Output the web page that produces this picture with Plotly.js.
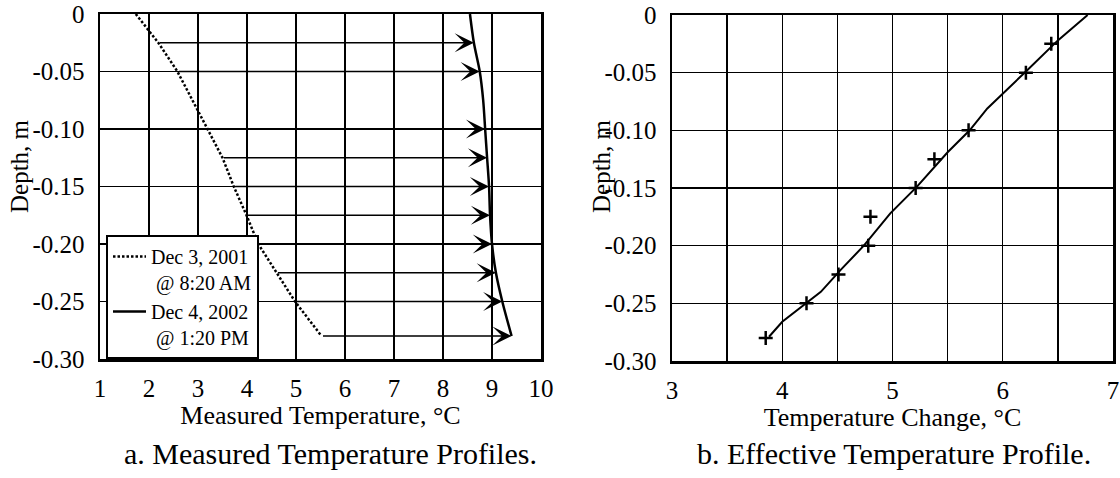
<!DOCTYPE html>
<html>
<head>
<meta charset="utf-8">
<script src="https://cdn.plot.ly/plotly-3.0.1.min.js"></script>
<style>html,body{margin:0;padding:0;background:#fff;}#chart{width:1120px;height:478px;}</style>
</head>
<body>
<div id="chart"></div>
<script>
// Panel a: measured temperature profiles
const depthA = [0, -0.025, -0.05, -0.10, -0.125, -0.15, -0.175, -0.20, -0.225, -0.25, -0.28];
const tempDec2001 = [1.73, 2.19, 2.58, 3.19, 3.50, 3.73, 3.99, 4.23, 4.60, 4.98, 5.52];
const depthSolid = [0, -0.025, -0.05, -0.075, -0.10, -0.125, -0.15, -0.175, -0.20, -0.225, -0.25, -0.28];
const tempDec2002 = [8.55, 8.63, 8.75, 8.82, 8.86, 8.90, 8.94, 8.96, 9.00, 9.08, 9.21, 9.40];

// Arrow depths (from the 2001 profile to the 2002 profile)
const arrowDepths = [-0.025, -0.05, -0.10, -0.125, -0.15, -0.175, -0.20, -0.225, -0.25, -0.28];
const arrowFrom = [2.19, 2.58, 3.19, 3.50, 3.73, 3.99, 4.23, 4.60, 4.98, 5.52];
const arrowTo = [8.63, 8.75, 8.86, 8.90, 8.94, 8.96, 9.00, 9.08, 9.21, 9.40];

// Panel b: effective temperature profile
const depthB = [-0.025, -0.05, -0.10, -0.125, -0.15, -0.175, -0.20, -0.225, -0.25, -0.28];
const tempChange = [6.44, 6.21, 5.69, 5.38, 5.21, 4.80, 4.78, 4.51, 4.22, 3.85];
const fitTemp = [3.88, 4.00, 4.35, 4.53, 4.74, 4.98, 5.22, 5.50, 5.70, 5.86, 6.21, 6.50, 6.77];
const fitDepth = [-0.279, -0.266, -0.240, -0.221, -0.200, -0.172, -0.149, -0.119, -0.100, -0.081, -0.049, -0.022, 0];

// Tick labels
const yTickVals = [0, -0.05, -0.10, -0.15, -0.20, -0.25, -0.30];
const yTickText = ['0', '-0.05', '-0.10', '-0.15', '-0.20', '-0.25', '-0.30'];
const xTickValsA = [1, 2, 3, 4, 5, 6, 7, 8, 9, 10];
const xTickTextA = ['1', '2', '3', '4', '5', '6', '7', '8', '9', '10'];
const xTickValsB = [3, 3.5, 4, 4.5, 5, 5.5, 6, 6.5, 7];
const xTickTextB = ['3', '', '4', '', '5', '', '6', '', '7'];

const FONT = '"Liberation Serif", "Times New Roman", Tinos, serif';
const tickFont = {family: FONT, size: 25, color: '#000'};

const traces = [
  {x: tempDec2001, y: depthA, xaxis: 'x', yaxis: 'y', mode: 'lines',
   name: 'Dec 3, 2001<br>\u00a0@ 8:20 AM',
   line: {color: '#000', width: 2.5, dash: '2.5px,2px'}},
  {x: tempDec2002, y: depthSolid, xaxis: 'x', yaxis: 'y', mode: 'lines',
   name: 'Dec 4, 2002<br>\u00a0@ 1:20 PM',
   line: {color: '#000', width: 2.5, shape: 'spline', smoothing: 0.8}},
  {x: fitTemp, y: fitDepth, xaxis: 'x2', yaxis: 'y2', mode: 'lines', showlegend: false,
   line: {color: '#000', width: 2}},
  {x: tempChange, y: depthB, xaxis: 'x2', yaxis: 'y2', mode: 'markers', showlegend: false,
   marker: {symbol: 'cross-thin-open', size: 10, color: '#000', line: {color: '#000', width: 2.5}}}
];

const annotations = arrowDepths.map((d, i) => ({
  x: arrowTo[i], y: d, ax: arrowFrom[i], ay: d,
  xref: 'x', yref: 'y', axref: 'x', ayref: 'y',
  text: '', showarrow: true, arrowhead: 3, arrowsize: 2, arrowwidth: 1.6, arrowcolor: '#000'
}));

annotations.push(
  {xref: 'paper', yref: 'paper', x: 20 / 1120, y: (478 - 166) / 478, xanchor: 'center', yanchor: 'middle',
   text: 'Depth, m', textangle: -90, showarrow: false, font: {family: FONT, size: 25, color: '#000'}},
  {xref: 'paper', yref: 'paper', x: 602 / 1120, y: (478 - 166) / 478, xanchor: 'center', yanchor: 'middle',
   text: 'Depth, m', textangle: -90, showarrow: false, font: {family: FONT, size: 25, color: '#000'}},
  {xref: 'paper', yref: 'paper', x: 330 / 1120, y: (478 - 453) / 478, xanchor: 'center', yanchor: 'middle',
   text: 'a. Measured Temperature Profiles.', showarrow: false, font: {family: FONT, size: 30, color: '#000'}},
  {xref: 'paper', yref: 'paper', x: 894 / 1120, y: (478 - 453) / 478, xanchor: 'center', yanchor: 'middle',
   text: 'b. Effective Temperature Profile.', showarrow: false, font: {family: FONT, size: 30, color: '#000'}}
);

const axisCommon = {
  showline: true, mirror: true, linecolor: '#000', linewidth: 2.5,
  showgrid: true, gridcolor: '#000', gridwidth: 1.3,
  zeroline: false, ticks: '', tickfont: tickFont, tickmode: 'array', fixedrange: true
};

const layout = {
  width: 1120, height: 478,
  margin: {l: 0, r: 0, t: 0, b: 0},
  paper_bgcolor: '#fff', plot_bgcolor: '#fff',
  font: {family: FONT, color: '#000'},
  showlegend: true,
  legend: {x: 106 / 1120, y: (478 - 235) / 478, xanchor: 'left', yanchor: 'top',
    bgcolor: '#fff', bordercolor: '#000', borderwidth: 2,
    font: {family: FONT, size: 20, color: '#000'}, valign: 'top', itemwidth: 33,
    tracegroupgap: 0},
  xaxis: Object.assign({}, axisCommon, {domain: [100 / 1120, 541 / 1120], range: [1, 10],
    tickvals: xTickValsA, ticktext: xTickTextA, anchor: 'y', ticklabelstandoff: 5,
    title: {text: 'Measured Temperature, \u00b0C', font: {family: FONT, size: 26, color: '#000'}, standoff: 0}}),
  yaxis: Object.assign({}, axisCommon, {domain: [(478 - 359) / 478, (478 - 14) / 478], range: [-0.30, 0],
    tickvals: yTickVals, ticktext: yTickText, anchor: 'x', ticklabelstandoff: 8}),
  xaxis2: Object.assign({}, axisCommon, {domain: [672 / 1120, 1113 / 1120], range: [3, 7],
    tickvals: xTickValsB, ticktext: xTickTextB, anchor: 'y2', ticklabelstandoff: 5,
    title: {text: 'Temperature Change, \u00b0C', font: {family: FONT, size: 26, color: '#000'}, standoff: 0}}),
  yaxis2: Object.assign({}, axisCommon, {domain: [(478 - 361) / 478, (478 - 15) / 478], range: [-0.30, 0],
    tickvals: yTickVals, ticktext: yTickText, anchor: 'x2', ticklabelstandoff: 8}),
  annotations: annotations
};

Plotly.newPlot('chart', traces, layout, {staticPlot: true, displayModeBar: false});
</script>
</body>
</html>
